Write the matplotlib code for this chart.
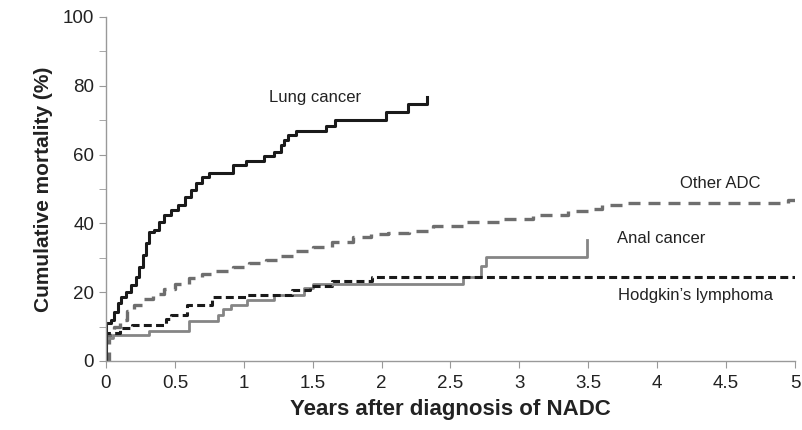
import matplotlib.pyplot as plt
import numpy as np

plt.rcParams['font.family'] = ['Liberation Sans', 'DejaVu Sans']

# Kaplan-Meier style cumulative mortality (%)
lung_t = [0, 0, 0.036, 0.06, 0.085, 0.11, 0.145, 0.18, 0.22, 0.24, 0.266, 0.29,
          0.314, 0.35, 0.387, 0.423, 0.47, 0.52, 0.57, 0.617, 0.653, 0.70, 0.75,
          0.92, 1.016, 1.15, 1.22, 1.27, 1.29, 1.32, 1.38, 1.60, 1.66, 2.03, 2.19,
          2.33]
lung_v = [0, 11, 12, 14.3, 16.8, 18.7, 20.1, 22.1, 24.5, 27.4, 30.8, 34.2,
          37.6, 38.1, 40.5, 42.4, 43.9, 45.3, 47.8, 49.7, 51.7, 53.6, 54.7,
          57, 58.2, 59.6, 60.7, 62.8, 64.2, 65.7, 66.9, 68.3, 70, 72.4, 74.6,
          76.8]

adc_t = [0, 0.02, 0.06, 0.1, 0.15, 0.2, 0.27, 0.34, 0.42, 0.5, 0.6, 0.7, 0.8,
         0.92, 1.04, 1.16, 1.26, 1.38, 1.5, 1.64, 1.79, 1.92, 2.05, 2.2, 2.37,
         2.61, 2.86, 3.1, 3.35, 3.5, 3.6, 3.79, 4.95, 5.0]
adc_v = [0, 7.5, 10, 12, 14.5, 16.3, 18, 19.6, 21, 22.5, 24, 25.2, 26.3,
         27.4, 28.6, 29.5, 30.6, 32, 33.2, 34.7, 36, 36.8, 37.3, 37.8, 39.3,
         40.4, 41.3, 42.3, 43.5, 44.3, 45.2, 46.0, 46.8, 46.8]

anal_t = [0, 0, 0.05, 0.315, 0.6, 0.81, 0.85, 0.91, 1.02, 1.22, 1.44, 1.5, 2.59,
          2.72, 2.76, 3.49]
anal_v = [0, 6.6, 7.5, 8.8, 11.6, 13.4, 15.0, 16.3, 17.7, 19.2, 21.1, 22.3, 24.3,
          27.7, 30.3, 35.2]

hodg_t = [0, 0, 0.1, 0.19, 0.435, 0.47, 0.59, 0.77, 1.02, 1.35, 1.48, 1.64, 1.93, 5.0]
hodg_v = [0, 8, 9.5, 10.6, 12.2, 13.4, 16.2, 18.5, 19.2, 20.6, 21.8, 23.3, 24.5, 24.5]

labels = ['Lung cancer', 'Other ADC', 'Anal cancer', "Hodgkin\u2019s lymphoma"]
label_xy = [(1.52, 76.5), (4.46, 51.7), (4.03, 35.5), (4.28, 18.9)]

fig = plt.figure(figsize=(8.03, 4.30), dpi=100)
ax = fig.add_axes([0.132, 0.1605, 0.858, 0.80])

ax.step(adc_t, adc_v, where='post', color='#6e6e6e', lw=2.4, dashes=(3.6, 2.4))
ax.step(anal_t, anal_v, where='post', color='#858585', lw=2.0)
ax.step(hodg_t, hodg_v, where='post', color='#1a1a1a', lw=2.2, dashes=(2.6, 1.4))
ax.step(lung_t, lung_v, where='post', color='#1a1a1a', lw=2.2)

for txt, (x, y) in zip(labels, label_xy):
    ax.text(x, y, txt, ha='center', va='center', fontsize=12, color='#222222')

ax.set_xlim(0, 5)
ax.set_ylim(0, 100)
ax.set_xticks(np.arange(0, 5.01, 0.5))
ax.set_xticklabels(['0', '0.5', '1', '1.5', '2', '2.5', '3', '3.5', '4', '4.5', '5'])
ax.set_yticks(np.arange(0, 101, 20))
ax.set_yticks(np.arange(10, 100, 20), minor=True)
ax.tick_params(axis='both', which='both', direction='out', color='#999999',
               labelsize=13.5, labelcolor='#222222', length=5)
ax.tick_params(axis='x', pad=5)

for s in ['top', 'right']:
    ax.spines[s].set_visible(False)
for s in ['left', 'bottom']:
    ax.spines[s].set_color('#999999')
    ax.spines[s].set_linewidth(1.0)

ax.set_xlabel('Years after diagnosis of NADC', fontsize=16, fontweight='bold',
              color='#222222', labelpad=5)
ax.set_ylabel('Cumulative mortality (%)', fontsize=15, fontweight='bold',
              color='#222222', labelpad=7)

fig.savefig('out.png', dpi=100)
